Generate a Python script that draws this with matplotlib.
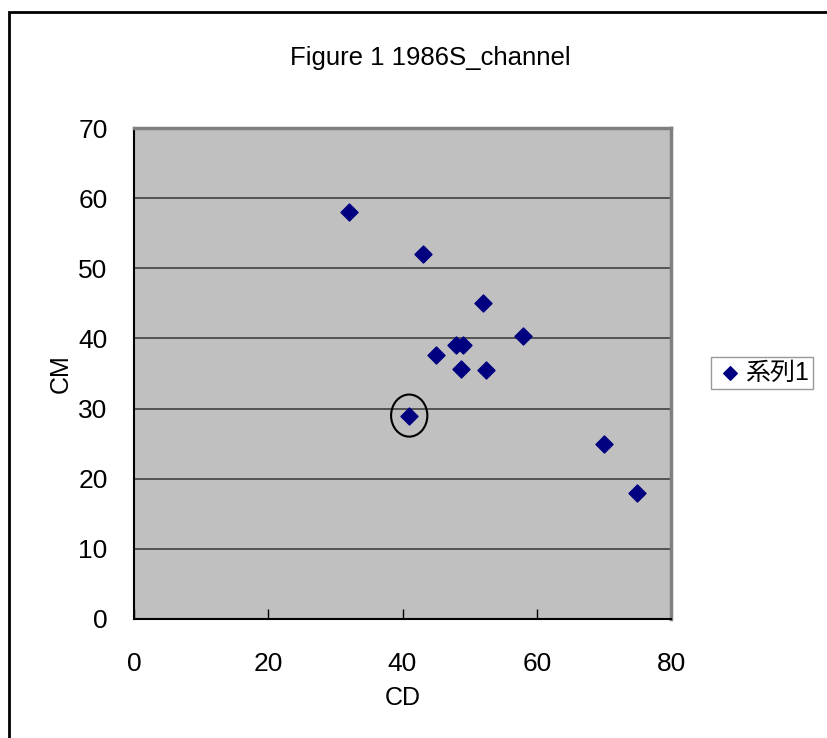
import matplotlib
matplotlib.use('Agg')
import matplotlib.pyplot as plt
from matplotlib.patches import Rectangle, Ellipse

plt.rcParams['font.family'] = ['Liberation Sans', 'Noto Sans CJK JP', 'DejaVu Sans']

# CD / CM pairs, 1986S channel
cd = [32, 43, 52, 58, 48, 49, 45, 48.7, 52.5, 41, 70, 75]
cm = [58, 52, 45, 40.3, 39, 39, 37.7, 35.7, 35.5, 29, 25, 18]
hl_x, hl_y = 41, 29   # circled point

fig = plt.figure(figsize=(8.27, 7.38), dpi=100)
fig.patches.append(Rectangle((9 / 827, -0.1), 1.2, 1 - 12 / 738 + 0.1,
                             transform=fig.transFigure, fill=False,
                             edgecolor='black', linewidth=2, zorder=0))

ax = fig.add_axes([134 / 827, 1 - 619 / 738, 537 / 827, 491 / 738])
ax.set_facecolor('#c0c0c0')
ax.set_xlim(0, 80)
ax.set_ylim(0, 70)
ax.set_xticks([0, 20, 40, 60, 80])
ax.set_yticks(range(0, 71, 10))
ax.yaxis.grid(True, color='#404040', linewidth=1.2)
ax.set_axisbelow(True)
for side in ['top', 'right']:
    ax.spines[side].set_color('#808080')
    ax.spines[side].set_linewidth(2.5)
for side in ['left', 'bottom']:
    ax.spines[side].set_color('black')
    ax.spines[side].set_linewidth(1.5)
ax.tick_params(axis='x', direction='in', length=7, width=1, pad=24, labelsize=19)
ax.tick_params(axis='y', length=0, pad=19, labelsize=19)

pts = ax.scatter(cd, cm, marker='D', s=75, color='#000080', zorder=3, label='系列1')
ax.add_patch(Ellipse((hl_x, hl_y), 5.4, 6.0, fill=False, edgecolor='black',
                     linewidth=1.5, zorder=4))

ax.set_xlabel('CD', fontsize=18, labelpad=7)
ax.set_ylabel('CM', fontsize=18, labelpad=4)
fig.text(430 / 827, 1 - 58 / 738, 'Figure 1 1986S_channel', ha='center',
         va='center', fontsize=18.5)

fig.legend(handles=[pts], loc='center', bbox_to_anchor=(762 / 827, 1 - 373 / 738),
           fontsize=18, frameon=True, fancybox=False, edgecolor='#808080',
           handletextpad=0.0, handlelength=1.2, borderpad=0.15, markerscale=0.8)

fig.savefig('out.png', dpi=100)
